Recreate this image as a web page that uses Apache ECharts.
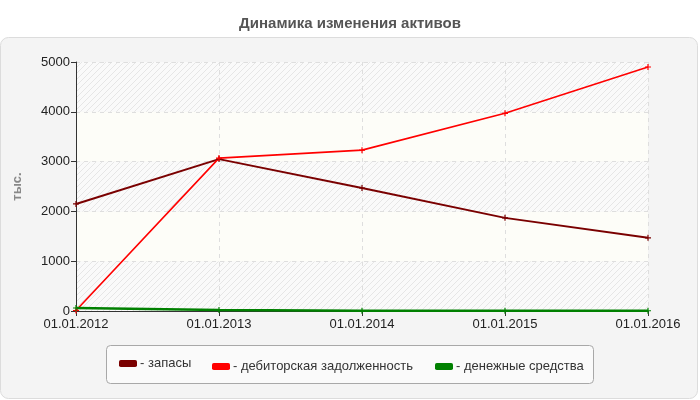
<!DOCTYPE html>
<html>
<head>
<meta charset="utf-8">
<script src="https://cdn.jsdelivr.net/npm/echarts@6/dist/echarts.min.js"></script>
<style>
  html,body{margin:0;padding:0;background:#fff;}
  #chart{width:700px;height:400px;}
</style>
</head>
<body>
<div id="chart"></div>
<script>
  // даты и значения (тыс.)
  var dates = ['01.01.2012', '01.01.2013', '01.01.2014', '01.01.2015', '01.01.2016'];
  var zapasy = [2150, 3050, 2470, 1870, 1470];
  var debitor = [10, 3070, 3230, 3970, 4900];
  var dengi = [60, 20, 5, 5, 5];
  var yTicks = [0, 1000, 2000, 3000, 4000, 5000];

  // штриховка для фона
  function hatch() {
    var c = document.createElement('canvas');
    c.width = 6; c.height = 6;
    var ctx = c.getContext('2d');
    ctx.fillStyle = '#fafafa';
    ctx.fillRect(0, 0, 6, 6);
    ctx.strokeStyle = '#e6e6e6';
    ctx.lineWidth = 1;
    ctx.beginPath();
    ctx.moveTo(0, 6); ctx.lineTo(6, 0);
    ctx.moveTo(-1, 1); ctx.lineTo(1, -1);
    ctx.moveTo(5, 7); ctx.lineTo(7, 5);
    ctx.stroke();
    return {image: c, repeat: 'repeat'};
  }

  var plus = 'path://M2,0L3,0L3,2L5,2L5,3L3,3L3,5L2,5L2,3L0,3L0,2L2,2Z';
  var chart = echarts.init(document.getElementById('chart'));

  function leg(name, left, top) {
    return {
      data: [name], left: left, top: top, orient: 'horizontal',
      itemWidth: 18, itemHeight: 7, itemGap: 0,
      icon: 'roundRect', selectedMode: false,
      textStyle: {fontFamily: 'Liberation Sans', fontSize: 13, color: '#333', padding: [0, 0, 0, -2]},
      formatter: '- {name}'
    };
  }

  var option = {
    backgroundColor: '#fff',
    animation: false,
    title: {
      text: 'Динамика изменения активов',
      left: 'center', top: 11,
      textStyle: {fontFamily: 'Liberation Sans', fontSize: 15, fontWeight: 'bold', color: '#555'}
    },
    graphic: [
      {type: 'rect', z: -10, shape: {x: 0.5, y: 37.5, width: 697, height: 361, r: 8},
        style: {fill: '#f4f4f4', stroke: '#dcdcdc', lineWidth: 1}},
      {type: 'rect', z: -5, shape: {x: 106.5, y: 345.5, width: 487, height: 38, r: 4},
        style: {fill: '#fafafa', stroke: '#a8a8a8', lineWidth: 1}}
    ],
    legend: [
      leg('запасы', 114, 352),
      leg('дебиторская задолженность', 207, 355),
      leg('денежные средства', 430, 355)
    ],
    grid: {left: 76, right: 52, top: 62, bottom: 89},
    xAxis: {
      type: 'category', data: dates, boundaryGap: false,
      axisLine: {lineStyle: {color: '#333', width: 1}},
      axisTick: {show: true, alignWithLabel: true, length: 5, lineStyle: {color: '#333'}},
      axisLabel: {fontFamily: 'Liberation Sans', fontSize: 13, color: '#222', margin: 7},
      splitLine: {show: true, lineStyle: {color: '#dedede', type: [4, 4]}}
    },
    yAxis: {
      type: 'value', min: 0, max: 5000, interval: 1000,
      name: 'тыс.', nameLocation: 'middle', nameGap: 52, nameRotate: 90, nameMoveOverlap: false,
      nameTextStyle: {fontFamily: 'Liberation Sans', fontSize: 13, fontWeight: 'bold', color: '#888'},
      axisLine: {show: true, lineStyle: {color: '#333', width: 1}},
      axisTick: {show: true, length: 5, lineStyle: {color: '#333'}},
      axisLabel: {fontFamily: 'Liberation Sans', fontSize: 13, color: '#222', margin: 6,
        formatter: function (v) { return yTicks.indexOf(v) >= 0 ? String(v) : ''; }},
      splitLine: {show: true, lineStyle: {color: '#dedede', type: [4, 4]}},
      splitArea: {show: true, areaStyle: {color: [hatch(), '#fdfdf8']}}
    },
    series: [
      {name: 'запасы', type: 'line', data: zapasy, color: '#7a0000',
        symbol: plus, symbolSize: 6, showSymbol: true,
        lineStyle: {width: 2, color: '#7a0000'}, itemStyle: {color: '#7a0000'}},
      {name: 'дебиторская задолженность', type: 'line', data: debitor, color: '#ff0000',
        symbol: plus, symbolSize: 6,
        lineStyle: {width: 1.6, color: '#ff0000'}, itemStyle: {color: '#ff0000'}},
      {name: 'денежные средства', type: 'line', data: dengi, color: '#008000',
        symbol: plus, symbolSize: 6,
        lineStyle: {width: 2.5, color: '#008000'}, itemStyle: {color: '#008000'}}
    ]
  };
  chart.setOption(option);
</script>
</body>
</html>
